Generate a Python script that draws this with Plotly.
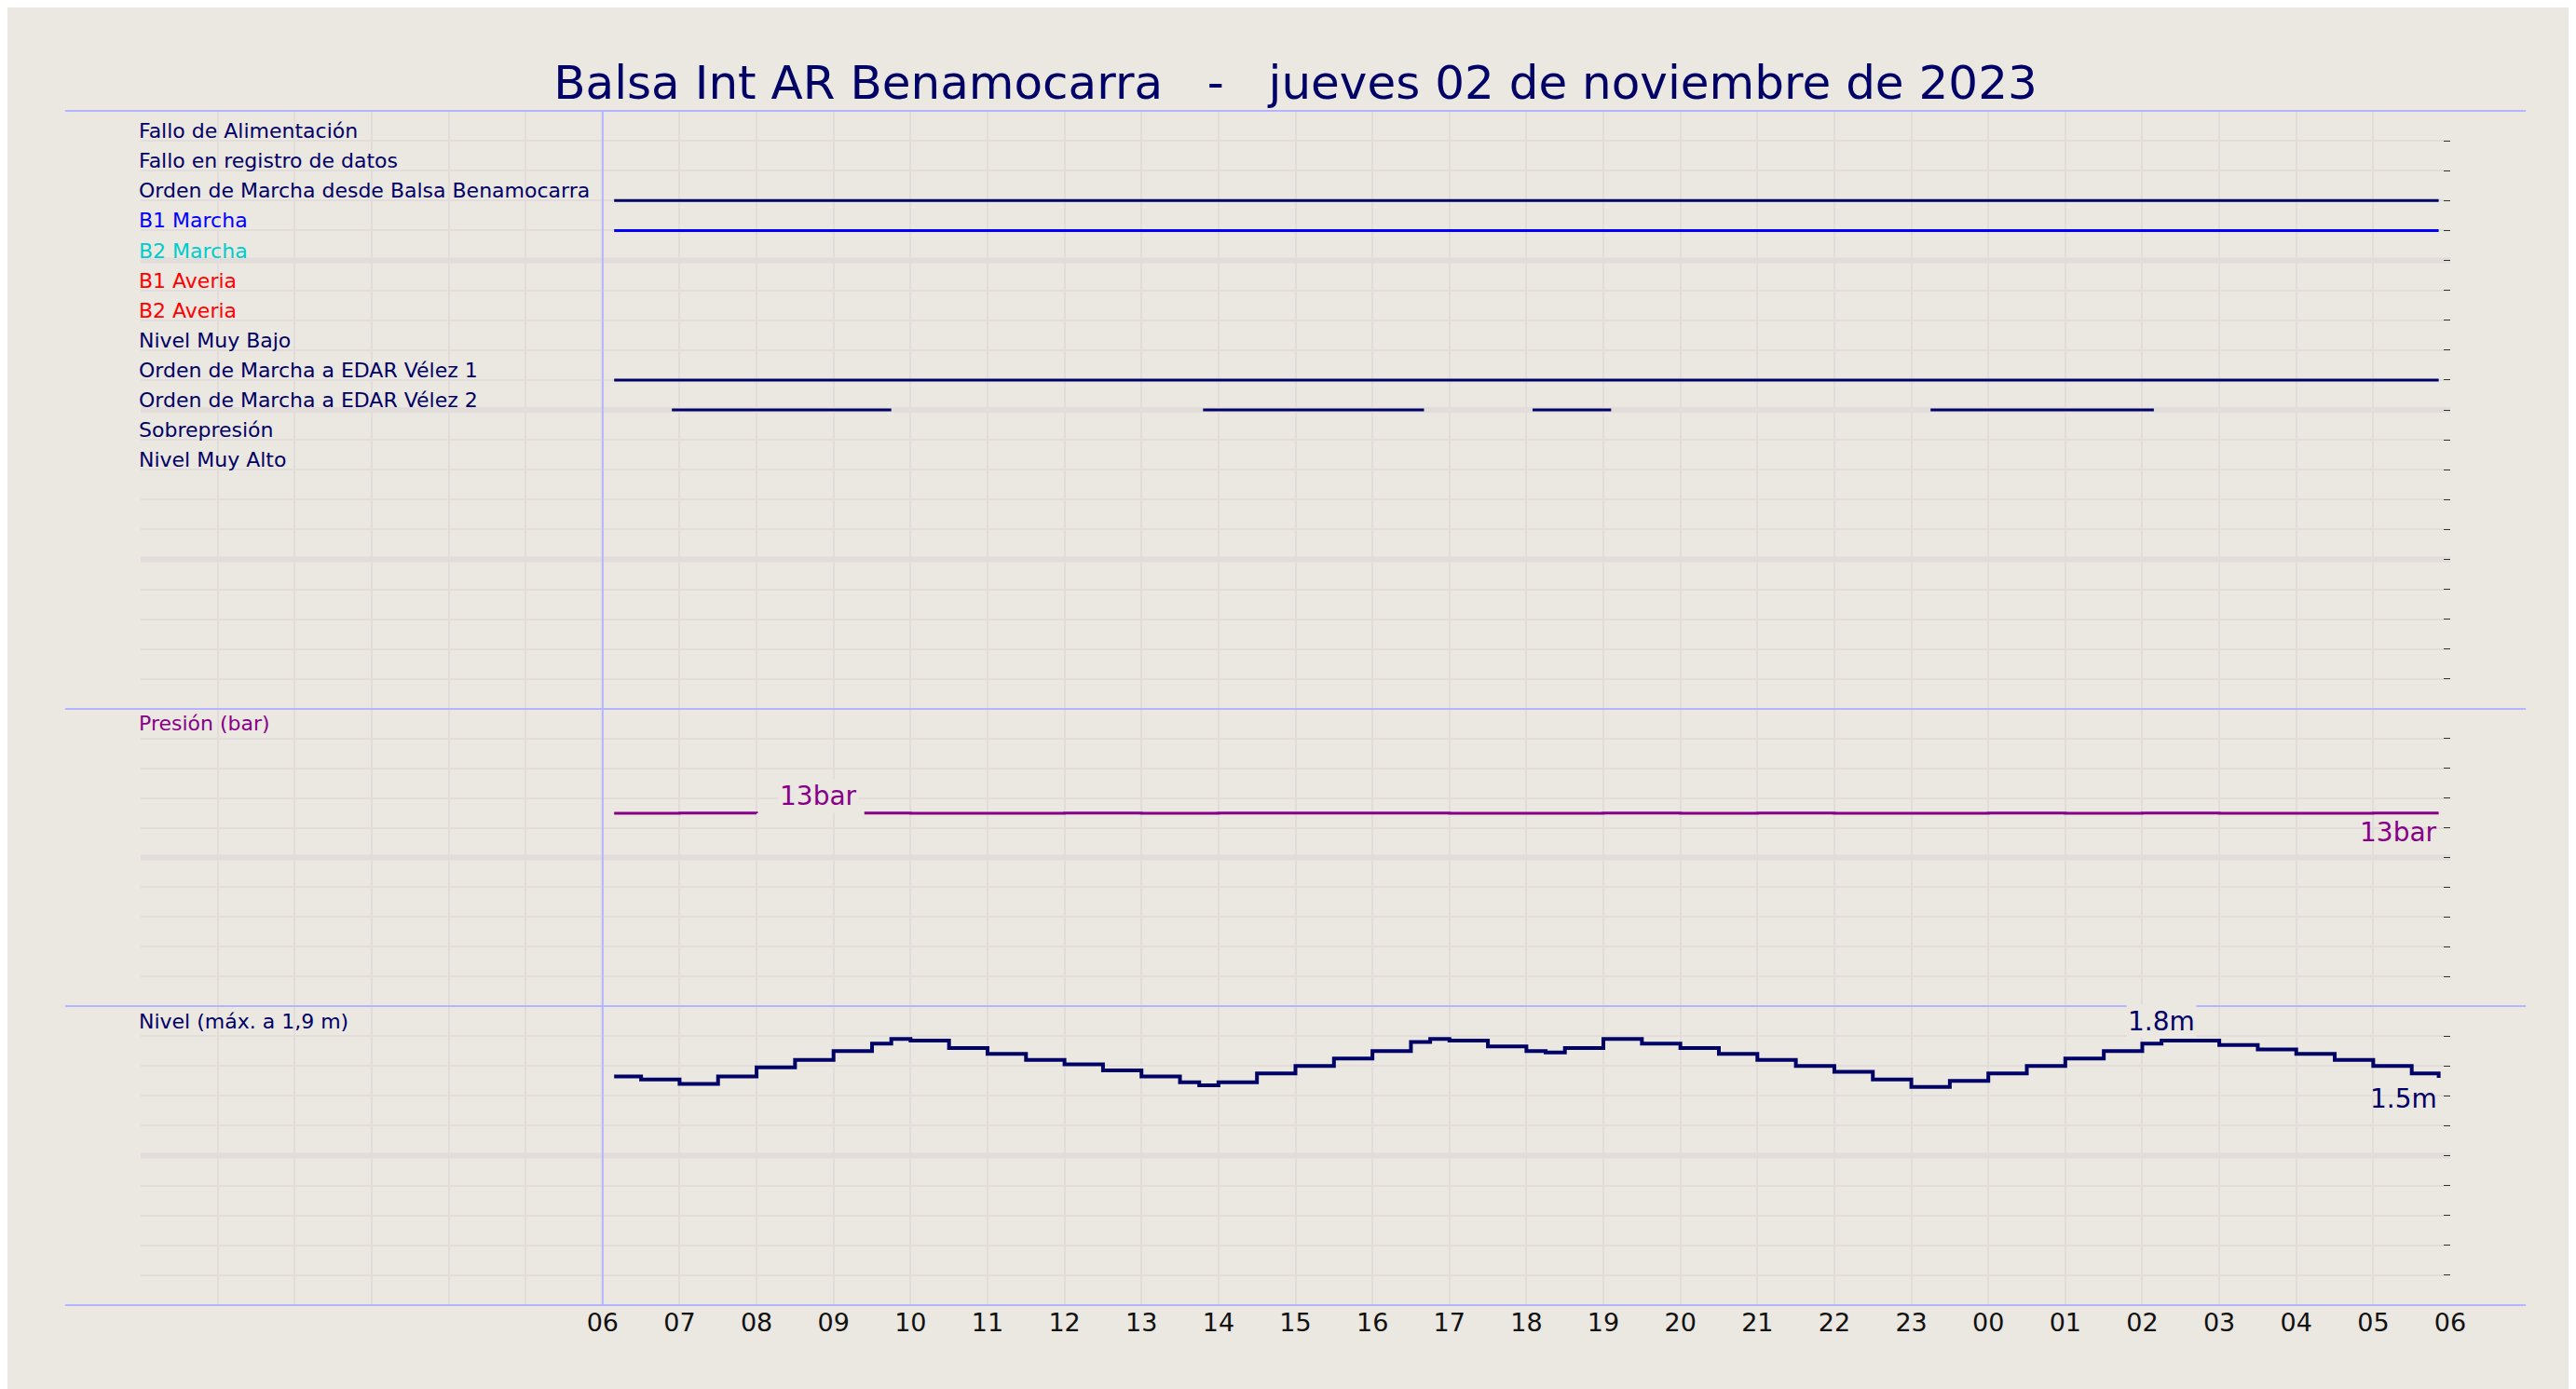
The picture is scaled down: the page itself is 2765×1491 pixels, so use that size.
import plotly.graph_objects as go

# Señales digitales (fila desde arriba, etiqueta, color)
signal_labels = ["Fallo de Alimentación", "Fallo en registro de datos",
                 "Orden de Marcha desde Balsa Benamocarra", "B1 Marcha", "B2 Marcha",
                 "B1 Averia", "B2 Averia", "Nivel Muy Bajo", "Orden de Marcha a EDAR Vélez 1",
                 "Orden de Marcha a EDAR Vélez 2", "Sobrepresión", "Nivel Muy Alto"]
signal_colors = ["#000066", "#000066", "#000066", "#0000ff", "#00cccc", "#ff0000",
                 "#ff0000", "#000066", "#000066", "#000066", "#000066", "#000066"]
# tramos activos (hora inicio, hora fin), horas desde 00:00 del día 2
signal_on = {
    2: [(6.15, 29.85)],
    3: [(6.15, 29.85)],
    8: [(6.15, 29.85)],
    9: [(6.9, 9.75), (13.8, 16.67), (18.08, 19.1), (23.25, 26.15)],
}

hour_labels = ["06", "07", "08", "09", "10", "11", "12", "13", "14", "15", "16", "17", "18",
               "19", "20", "21", "22", "23", "00", "01", "02", "03", "04", "05", "06"]

pres_t = [6.15, 7.0, 8.0, 8.3, 9.4, 10.0, 11.0, 12.0, 13.0, 14.0, 15.0, 16.0, 17.0, 18.0,
          19.0, 20.0, 21.0, 22.0, 23.0, 24.0, 25.0, 26.0, 27.0, 28.0, 29.0, 29.85]
pres_v = [12.98, 13.0, 12.98, None, 13.0, 12.98, 12.98, 13.0, 12.98, 13.0, 13.0, 13.0, 12.98,
          12.98, 13.0, 12.98, 13.0, 12.98, 12.98, 13.0, 12.98, 13.0, 12.98, 12.98, 13.0, 13.0]

lvl_t = [6.15, 6.5, 7.0, 7.5, 8.0, 8.5, 9.0, 9.5, 9.75, 10.0, 10.5, 11.0, 11.5, 12.0, 12.5,
         13.0, 13.5, 13.75, 14.0, 14.5, 15.0, 15.5, 16.0, 16.5, 16.75, 17.0, 17.5, 18.0,
         18.25, 18.5, 19.0, 19.5, 20.0, 20.5, 21.0, 21.5, 22.0, 22.5, 23.0, 23.5, 24.0,
         24.5, 25.0, 25.5, 26.0, 26.25, 26.5, 27.0, 27.5, 28.0, 28.5, 29.0, 29.5, 29.85]
lvl_v = [1.53, 1.51, 1.48, 1.53, 1.59, 1.64, 1.70, 1.75, 1.78, 1.77, 1.72, 1.68, 1.64, 1.61,
         1.57, 1.53, 1.49, 1.47, 1.49, 1.55, 1.60, 1.65, 1.70, 1.76, 1.78, 1.77, 1.73, 1.70,
         1.69, 1.72, 1.78, 1.75, 1.72, 1.68, 1.64, 1.60, 1.56, 1.51, 1.46, 1.50, 1.55, 1.60,
         1.65, 1.70, 1.75, 1.77, 1.77, 1.74, 1.71, 1.68, 1.64, 1.60, 1.55, 1.52]

BG = "#ebe7e1"
NAVY = "#000066"
GRID = "#e2dddb"
SEP = "#b4b4ff"
FONT = "DejaVu Sans"

fig = go.Figure()

for row, segs in signal_on.items():
    xs, ys = [], []
    for a, b in segs:
        xs += [a, b, None]
        ys += [19 - row, 19 - row, None]
    fig.add_trace(go.Scatter(x=xs, y=ys, mode="lines", line=dict(color=signal_colors[row], width=3),
                             xaxis="x", yaxis="y3", hoverinfo="skip"))

fig.add_trace(go.Scatter(x=pres_t, y=pres_v, mode="lines", line=dict(color="#880088", width=3, shape="hv"),
                         xaxis="x2", yaxis="y2", connectgaps=False))
fig.add_trace(go.Scatter(x=lvl_t, y=lvl_v, mode="lines", line=dict(color=NAVY, width=4, shape="hv"),
                         xaxis="x3", yaxis="y"))

tickvals = list(range(0, 31))
ticktext = [""] * 6 + hour_labels
xcommon = dict(range=[0, 30], tickvals=tickvals, showgrid=True, gridcolor=GRID, gridwidth=2,
               zeroline=False, showline=False, fixedrange=True)
ycommon = dict(showgrid=True, gridcolor=GRID, gridwidth=2, zeroline=False, side="right",
               ticks="inside", ticklen=7, tickcolor="#333", showticklabels=False, showline=False)

d_bot, d_mid = 321 / 1282, 640 / 1282
fig.update_layout(
    width=2765, height=1491, paper_bgcolor=BG, plot_bgcolor=BG, showlegend=False,
    margin=dict(l=143, r=143, t=111, b=98),
    font=dict(family=FONT, color=NAVY, size=22),
    title=dict(text="Balsa Int AR Benamocarra   -   jueves 02 de noviembre de 2023", x=0.5, y=0.946,
               xanchor="center", yanchor="middle", font=dict(size=50, color=NAVY)),
    xaxis=dict(**xcommon, anchor="y3", showticklabels=False),
    xaxis2=dict(**xcommon, anchor="y2", matches="x", showticklabels=False),
    xaxis3=dict(**xcommon, anchor="y", matches="x", ticktext=ticktext, ticks="",
                tickfont=dict(size=27, color="#111")),
    yaxis=dict(**ycommon, domain=[0, d_bot], range=[0, 2], dtick=0.2),
    yaxis2=dict(**ycommon, domain=[d_bot, d_mid], range=[0, 20], dtick=2),
    yaxis3=dict(**ycommon, domain=[d_mid, 1], range=[0, 20], dtick=1),
)

# líneas gruesas cada 5 filas
for ya, vals in (("y3", [5, 10, 15]), ("y2", [10]), ("y", [1.0])):
    for v in vals:
        fig.add_shape(type="line", xref="x", yref=ya, x0=0, x1=30, y0=v, y1=v,
                      line=dict(color="#e2dcda", width=6), layer="below")

# separadores azules
for yp in (0, d_bot, d_mid, 1):
    fig.add_shape(type="line", xref="paper", yref="paper", x0=-0.0327, x1=1.0327, y0=yp, y1=yp,
                  line=dict(color=SEP, width=2))
fig.add_shape(type="line", xref="x", yref="paper", x0=6, x1=6, y0=0, y1=1, line=dict(color=SEP, width=2))

for i, (lab, col) in enumerate(zip(signal_labels, signal_colors)):
    fig.add_annotation(x=0, y=19 - i, xref="x", yref="y3", text=lab, showarrow=False,
                       xanchor="left", yanchor="bottom", yshift=-4, xshift=-4, font=dict(size=22, color=col))
fig.add_annotation(x=0, y=19, xref="x", yref="y2", text="Presión (bar)", showarrow=False, xshift=-4,
                   xanchor="left", yanchor="middle", font=dict(size=22, color="#880088"))
fig.add_annotation(x=0, y=1.9, xref="x", yref="y", text="Nivel (máx. a 1,9 m)", showarrow=False, xshift=-4,
                   xanchor="left", yanchor="middle", font=dict(size=22, color=NAVY))

fig.add_annotation(x=8.8, y=13, xref="x", yref="y2", text="13bar", showarrow=False, yanchor="bottom",
                   font=dict(size=28, color="#880088"), bgcolor=BG)
fig.add_annotation(x=29.85, y=13, xref="x", yref="y2", text="13bar", showarrow=False, xanchor="right",
                   yanchor="top", yshift=-2, font=dict(size=28, color="#880088"))
fig.add_annotation(x=26.25, y=1.78, xref="x", yref="y", text="1.8m", showarrow=False, yanchor="bottom",
                   font=dict(size=28, color=NAVY), bgcolor=BG)
fig.add_annotation(x=29.85, y=1.52, xref="x", yref="y", text="1.5m", showarrow=False, xanchor="right",
                   yanchor="top", yshift=-4, font=dict(size=28, color=NAVY))

fig.write_html("out.html")
